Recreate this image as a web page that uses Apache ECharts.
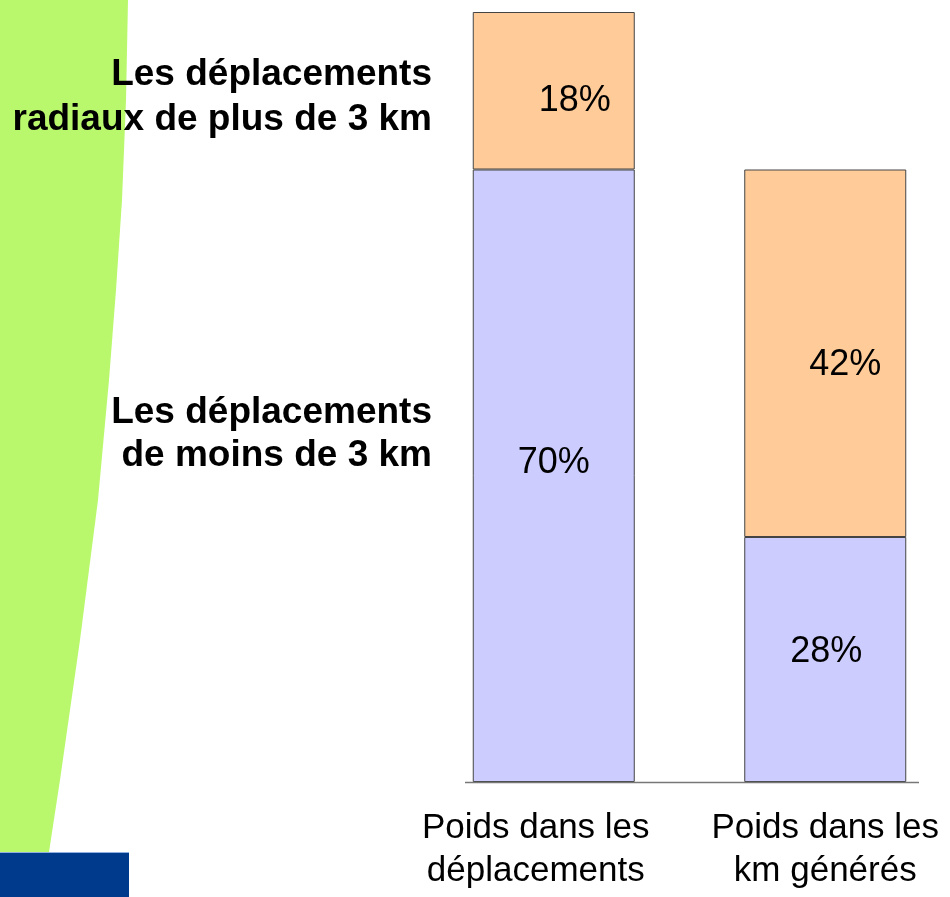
<!DOCTYPE html>
<html>
<head>
<meta charset="utf-8">
<script src="https://cdn.jsdelivr.net/npm/echarts@6/dist/echarts.min.js"></script>
<style>
  html, body { margin: 0; padding: 0; background: #fff; overflow: hidden; }
  #chart { width: 961px; height: 897px; }
</style>
</head>
<body>
<div id="chart"></div>
<script>
// données
const categories = ['Poids dans les\ndéplacements', 'Poids dans les\nkm générés'];
const moinsDe3km = [70, 28];   // déplacements de moins de 3 km
const radiaux = [18, 42];      // déplacements radiaux de plus de 3 km
// décalage des étiquettes dans les barres (comme sur l'original)
const offMoins = [[0, -13], [1, -7]];
const offRadiaux = [[21, 10], [20, 12]];

const font = "'Liberation Sans', Arial, sans-serif";

let chart = echarts.init(document.getElementById('chart'));

function makeData(values, offsets) {
    return values.map((v, i) => ({
        value: v,
        label: { offset: offsets[i] }
    }));
}

let option = {
    animation: false,
    grid: {
        left: 418,
        width: 543,
        top: 12,
        bottom: 115
    },
    xAxis: {
        type: 'category',
        data: categories,
        axisLine: { show: false },
        axisTick: { show: false },
        axisLabel: {
            interval: 0,
            hideOverlap: false,
            margin: 25,
            color: '#000',
            fontFamily: font,
            fontSize: 35,
            lineHeight: 43,
            formatter: function (val, idx) {
                return val.split('\n').map(s => '{' + (idx === 0 ? 'a' : 'b') + '|' + s + '}').join('\n');
            },
            rich: {
                a: { fontFamily: font, fontSize: 35, lineHeight: 43, color: '#000', padding: [0, 36, 0, 0] },
                b: { fontFamily: font, fontSize: 35, lineHeight: 43, color: '#000' }
            }
        }
    },
    yAxis: {
        type: 'value',
        min: 0,
        max: 88,
        show: false,
        splitLine: { show: false }
    },
    series: [
        {
            name: 'Les déplacements de moins de 3 km',
            type: 'bar',
            stack: 'total',
            barWidth: 162,
            data: makeData(moinsDe3km, offMoins),
            itemStyle: { color: '#ccccff', borderColor: '#444', borderWidth: 1 },
            label: {
                show: true,
                position: 'inside',
                formatter: '{c}%',
                color: '#000',
                fontFamily: font,
                fontSize: 36
            }
        },
        {
            name: 'Les déplacements radiaux de plus de 3 km',
            type: 'bar',
            stack: 'total',
            barWidth: 162,
            data: makeData(radiaux, offRadiaux),
            itemStyle: { color: '#ffcc99', borderColor: '#444', borderWidth: 1 },
            label: {
                show: true,
                position: 'inside',
                formatter: '{c}%',
                color: '#000',
                fontFamily: font,
                fontSize: 36
            }
        }
    ],
    graphic: [
        // bandeau vert à gauche
        {
            type: 'polygon',
            z: -10,
            shape: {
                points: [[0, 0], [128, 0], [126, 100], [122, 200], [116, 290], [109, 380],
                         [98, 500], [80, 640], [60, 780], [49, 852], [0, 852]]
            },
            style: { fill: '#b9f86c' }
        },
        // bloc bleu en bas
        {
            type: 'rect',
            z: -9,
            shape: { x: 0, y: 852, width: 129, height: 45 },
            style: { fill: '#003a8c' }
        },
        {
            type: 'line',
            z: -8,
            shape: { x1: 0, y1: 852.5, x2: 129, y2: 852.5 },
            style: { stroke: '#8fb0e0', lineWidth: 1 }
        },
        // ligne de base
        {
            type: 'line',
            z: 5,
            shape: { x1: 465, y1: 782.5, x2: 919, y2: 782.5 },
            style: { stroke: '#777', lineWidth: 1.5 }
        },
        // textes de légende à gauche
        { type: 'text', z: 10, x: 432, y: 74.5, style: { text: 'Les déplacements', align: 'right', verticalAlign: 'middle', font: 'bold 37px ' + font, fill: '#000' } },
        { type: 'text', z: 10, x: 432, y: 119.5, style: { text: 'radiaux de plus de 3 km', align: 'right', verticalAlign: 'middle', font: 'bold 37px ' + font, fill: '#000' } },
        { type: 'text', z: 10, x: 432, y: 412.5, style: { text: 'Les déplacements', align: 'right', verticalAlign: 'middle', font: 'bold 37px ' + font, fill: '#000' } },
        { type: 'text', z: 10, x: 432, y: 455.5, style: { text: 'de moins de 3 km', align: 'right', verticalAlign: 'middle', font: 'bold 37px ' + font, fill: '#000' } }
    ]
};

chart.setOption(option);
window.addEventListener('resize', () => {
    if (chart) {
        chart.resize();
    }
});
</script>
</body>
</html>
